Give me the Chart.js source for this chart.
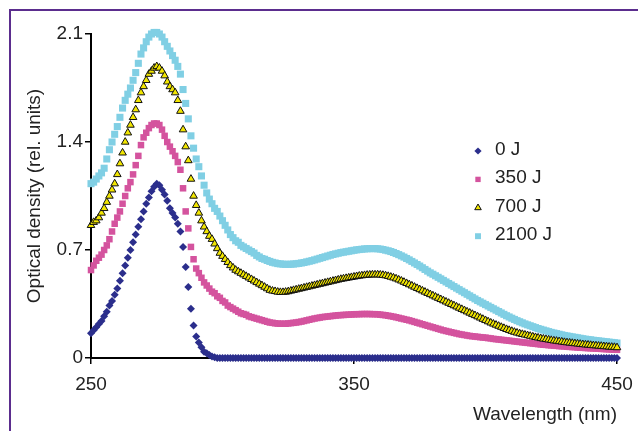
<!DOCTYPE html>
<html lang="en">
<head>
<meta charset="UTF-8" />
<title>Optical density spectra</title>
<script src="https://cdn.jsdelivr.net/npm/chart.js"></script>
<style>
  body { margin: 0; background: #fff; overflow: hidden; }
  .frame { position: absolute; left: 9px; top: 9px; width: 700px; height: 500px; border: 2px solid #5b2d8e; }
  #spectra { position: absolute; left: 0; top: 0; }
</style>
</head>
<body>
<div class="frame"></div>
<canvas id="spectra" width="638" height="431"></canvas>
<script>
// wavelength grid, 1 nm steps from 250 to 450 nm
const wavelengths = Array.from({ length: 201 }, (_, i) => 250 + i);

const xTicks = [250, 350, 450];
const yTicks = [0, 0.7, 1.4, 2.1];

const dose0 = [
  0.16, 0.18, 0.20, 0.22, 0.24, 0.27, 0.30, 0.34, 0.37, 0.41,
  0.45, 0.50, 0.55, 0.60, 0.65, 0.70, 0.75, 0.80, 0.85, 0.90,
  0.95, 1.00, 1.04, 1.08, 1.11, 1.13, 1.12, 1.09, 1.06, 1.02,
  0.97, 0.94, 0.91, 0.87, 0.82, 0.72, 0.59, 0.46, 0.32, 0.21,
  0.14, 0.10, 0.07, 0.04, 0.03, 0.02, 0.01, 0.005, 0, 0,
  0, 0, 0, 0, 0, 0, 0, 0, 0, 0,
  0, 0, 0, 0, 0, 0, 0, 0, 0, 0,
  0, 0, 0, 0, 0, 0, 0, 0, 0, 0,
  0, 0, 0, 0, 0, 0, 0, 0, 0, 0,
  0, 0, 0, 0, 0, 0, 0, 0, 0, 0,
  0, 0, 0, 0, 0, 0, 0, 0, 0, 0,
  0, 0, 0, 0, 0, 0, 0, 0, 0, 0,
  0, 0, 0, 0, 0, 0, 0, 0, 0, 0,
  0, 0, 0, 0, 0, 0, 0, 0, 0, 0,
  0, 0, 0, 0, 0, 0, 0, 0, 0, 0,
  0, 0, 0, 0, 0, 0, 0, 0, 0, 0,
  0, 0, 0, 0, 0, 0, 0, 0, 0, 0,
  0, 0, 0, 0, 0, 0, 0, 0, 0, 0,
  0, 0, 0, 0, 0, 0, 0, 0, 0, 0,
  0, 0, 0, 0, 0, 0, 0, 0, 0, 0,
  0
];

const dose350 = [
  0.57, 0.60, 0.63, 0.65, 0.67, 0.70, 0.73, 0.77, 0.82, 0.87,
  0.91, 0.95, 1.00, 1.05, 1.10, 1.14, 1.19, 1.25, 1.31, 1.38,
  1.43, 1.46, 1.49, 1.51, 1.52, 1.52, 1.51, 1.48, 1.44, 1.40,
  1.37, 1.34, 1.31, 1.27, 1.22, 1.10, 0.95, 0.84, 0.72, 0.64,
  0.58, 0.55, 0.52, 0.49, 0.47, 0.45, 0.43, 0.42, 0.40, 0.39,
  0.37, 0.36, 0.34, 0.33, 0.32, 0.31, 0.30, 0.29, 0.285, 0.28,
  0.27, 0.265, 0.26, 0.255, 0.25, 0.245, 0.24, 0.235, 0.23, 0.228,
  0.225, 0.223, 0.222, 0.222, 0.222, 0.224, 0.226, 0.228, 0.23, 0.233,
  0.236, 0.24, 0.244, 0.248, 0.252, 0.256, 0.259, 0.262, 0.265, 0.267,
  0.269, 0.271, 0.273, 0.275, 0.277, 0.278, 0.279, 0.28, 0.281, 0.282,
  0.283, 0.284, 0.284, 0.285, 0.285, 0.285, 0.285, 0.284, 0.284, 0.283,
  0.281, 0.279, 0.277, 0.274, 0.271, 0.268, 0.264, 0.26, 0.256, 0.252,
  0.248, 0.244, 0.239, 0.234, 0.229, 0.224, 0.219, 0.214, 0.209, 0.204,
  0.199, 0.194, 0.189, 0.184, 0.179, 0.175, 0.171, 0.167, 0.163, 0.159,
  0.155, 0.152, 0.149, 0.146, 0.143, 0.141, 0.139, 0.137, 0.135, 0.133,
  0.132, 0.129, 0.127, 0.124, 0.122, 0.12, 0.118, 0.116, 0.114, 0.112,
  0.11, 0.108, 0.106, 0.104, 0.102, 0.1, 0.098, 0.096, 0.094, 0.092,
  0.09, 0.088, 0.086, 0.085, 0.083, 0.082, 0.08, 0.079, 0.077, 0.076,
  0.075, 0.073, 0.072, 0.071, 0.07, 0.068, 0.067, 0.066, 0.065, 0.064,
  0.063, 0.062, 0.061, 0.06, 0.059, 0.058, 0.057, 0.056, 0.055, 0.054,
  0.053
];

const dose700 = [
  0.86, 0.88, 0.89, 0.91, 0.94, 0.97, 1.01, 1.05, 1.09, 1.13,
  1.19, 1.26, 1.33, 1.40, 1.46, 1.51, 1.56, 1.61, 1.67, 1.72,
  1.76, 1.80, 1.84, 1.86, 1.88, 1.89, 1.88, 1.86, 1.83, 1.79,
  1.76, 1.74, 1.72, 1.67, 1.60, 1.48, 1.37, 1.28, 1.16, 1.05,
  0.99, 0.94, 0.89, 0.85, 0.82, 0.79, 0.77, 0.74, 0.71, 0.68,
  0.66, 0.64, 0.62, 0.60, 0.585, 0.57, 0.56, 0.55, 0.54, 0.53,
  0.52, 0.51, 0.50, 0.49, 0.48, 0.47, 0.46, 0.45, 0.44, 0.435,
  0.432, 0.428, 0.426, 0.426, 0.428, 0.431, 0.435, 0.439, 0.443, 0.447,
  0.451, 0.455, 0.459, 0.463, 0.467, 0.471, 0.475, 0.479, 0.483, 0.487,
  0.491, 0.495, 0.499, 0.503, 0.507, 0.511, 0.514, 0.517, 0.52, 0.523,
  0.526, 0.529, 0.532, 0.534, 0.536, 0.538, 0.539, 0.54, 0.54, 0.54,
  0.539, 0.537, 0.534, 0.53, 0.525, 0.52, 0.514, 0.507, 0.5, 0.492,
  0.484, 0.476, 0.468, 0.46, 0.452, 0.444, 0.436, 0.428, 0.42, 0.412,
  0.404, 0.396, 0.388, 0.38, 0.372, 0.364, 0.356, 0.348, 0.34, 0.332,
  0.324, 0.316, 0.308, 0.3, 0.292, 0.284, 0.276, 0.268, 0.26, 0.252,
  0.244, 0.236, 0.228, 0.221, 0.214, 0.207, 0.2, 0.193, 0.186, 0.18,
  0.174, 0.168, 0.163, 0.158, 0.154, 0.15, 0.146, 0.142, 0.138, 0.134,
  0.131, 0.127, 0.124, 0.121, 0.118, 0.115, 0.112, 0.11, 0.107, 0.105,
  0.102, 0.1, 0.098, 0.096, 0.094, 0.092, 0.09, 0.088, 0.086, 0.085,
  0.083, 0.081, 0.08, 0.078, 0.077, 0.075, 0.074, 0.072, 0.071, 0.07,
  0.068
];

const dose2100 = [
  1.13, 1.14, 1.16, 1.18, 1.20, 1.23, 1.29, 1.35, 1.40, 1.45,
  1.50, 1.56, 1.62, 1.67, 1.71, 1.75, 1.80, 1.85, 1.91, 1.97,
  2.01, 2.05, 2.08, 2.10, 2.11, 2.11, 2.10, 2.08, 2.05, 2.02,
  1.99, 1.96, 1.93, 1.89, 1.84, 1.74, 1.65, 1.55, 1.44, 1.36,
  1.29, 1.24, 1.18, 1.12, 1.07, 1.03, 1.00, 0.97, 0.95, 0.92,
  0.89, 0.86, 0.83, 0.80, 0.78, 0.76, 0.75, 0.73, 0.72, 0.71,
  0.70, 0.69, 0.68, 0.665, 0.655, 0.645, 0.64, 0.632, 0.626, 0.62,
  0.616, 0.612, 0.61, 0.608, 0.607, 0.607, 0.608, 0.609, 0.611, 0.613,
  0.616, 0.619, 0.623, 0.627, 0.631, 0.636, 0.641, 0.646, 0.651, 0.656,
  0.661, 0.666, 0.671, 0.675, 0.679, 0.683, 0.686, 0.689, 0.692, 0.695,
  0.698, 0.701, 0.703, 0.705, 0.707, 0.708, 0.709, 0.709, 0.709, 0.708,
  0.706, 0.703, 0.699, 0.695, 0.69, 0.684, 0.677, 0.67, 0.662, 0.654,
  0.645, 0.636, 0.626, 0.616, 0.606, 0.596, 0.585, 0.574, 0.563, 0.552,
  0.543, 0.533, 0.523, 0.513, 0.503, 0.493, 0.483, 0.473, 0.463, 0.453,
  0.443, 0.433, 0.423, 0.413, 0.403, 0.393, 0.383, 0.373, 0.364, 0.355,
  0.346, 0.337, 0.328, 0.319, 0.31, 0.301, 0.292, 0.283, 0.274, 0.266,
  0.258, 0.25, 0.242, 0.235, 0.228, 0.221, 0.215, 0.209, 0.203, 0.197,
  0.191, 0.186, 0.181, 0.176, 0.171, 0.166, 0.162, 0.158, 0.154, 0.15,
  0.146, 0.143, 0.14, 0.137, 0.134, 0.131, 0.128, 0.125, 0.122, 0.12,
  0.118, 0.115, 0.113, 0.111, 0.109, 0.107, 0.105, 0.103, 0.101, 0.099,
  0.097
];

const FONT = "'Liberation Sans', Arial, Helvetica, sans-serif";
const TEXT = '#222';

function points(values) {
  return values.map((v, i) => ({ x: wavelengths[i], y: v }));
}

// legend block drawn inside the plot, to the right of the peaks
const legendBlock = {
  id: 'legendBlock',
  afterDatasetsDraw(chart) {
    const ctx = chart.ctx;
    ctx.save();
    chart.data.datasets.forEach((ds, i) => {
      const y = 149.5 + i * 28.4;
      ctx.fillStyle = ds.pointBackgroundColor;
      ctx.strokeStyle = ds.pointBorderColor;
      ctx.lineWidth = ds.pointBorderWidth;
      Chart.helpers.drawPoint(ctx, {
        pointStyle: ds.pointStyle,
        radius: ds.legendRadius,
        borderWidth: ds.pointBorderWidth,
        rotation: 0
      }, 478, y + 1.5);
      ctx.fillStyle = TEXT;
      ctx.font = '19px ' + FONT;
      ctx.textAlign = 'left';
      ctx.textBaseline = 'middle';
      ctx.fillText(ds.label, 495, y);
    });
    ctx.restore();
  }
};

const tickFont = { family: FONT, size: 19 };

new Chart(document.getElementById('spectra'), {
  type: 'scatter',
  data: {
    datasets: [
      { label: '0 J', data: points(dose0), pointStyle: 'rectRot', pointRadius: 4, legendRadius: 3.6,
        pointBackgroundColor: '#2b2e8c', pointBorderColor: '#2b2e8c', pointBorderWidth: 0, order: 0 },
      { label: '350 J', data: points(dose350), pointStyle: 'rect', pointRadius: 4.6, legendRadius: 3.8,
        pointBackgroundColor: '#d4539e', pointBorderColor: '#d4539e', pointBorderWidth: 0, order: 2 },
      { label: '700 J', data: points(dose700), pointStyle: 'triangle', pointRadius: 4.4, legendRadius: 3.8,
        pointBackgroundColor: '#f2e600', pointBorderColor: '#111', pointBorderWidth: 1, order: 1 },
      { label: '2100 J', data: points(dose2100), pointStyle: 'rect', pointRadius: 5, legendRadius: 4.2,
        pointBackgroundColor: '#80cfe4', pointBorderColor: '#80cfe4', pointBorderWidth: 0, order: 3 }
    ]
  },
  options: {
    responsive: false,
    devicePixelRatio: 1,
    animation: false,
    events: [],
    clip: false,
    layout: { padding: { left: 0, top: 34, right: 21, bottom: 0 } },
    plugins: { legend: { display: false }, tooltip: { enabled: false } },
    scales: {
      x: {
        type: 'linear',
        min: 250,
        max: 450,
        afterBuildTicks: s => { s.ticks = xTicks.map(v => ({ value: v })); },
        afterFit: s => { s.height = 73; s.paddingLeft = 0; s.paddingRight = 0; },
        border: { display: true, color: '#000', width: 2 },
        grid: { drawOnChartArea: false, drawTicks: true, tickLength: 6, color: '#000', lineWidth: 1.5 },
        ticks: { color: TEXT, font: tickFont, padding: 9, maxRotation: 0, autoSkip: false,
                 callback: v => String(v) },
        title: { display: true, text: 'Wavelength (nm)', align: 'end', color: TEXT,
                 font: { family: FONT, size: 19 }, padding: { top: 0, bottom: 5 } }
      },
      y: {
        min: 0,
        max: 2.1,
        afterBuildTicks: s => { s.ticks = yTicks.map(v => ({ value: v })); },
        afterFit: s => { s.width = 91; s.paddingTop = 0; s.paddingBottom = 0; },
        border: { display: true, color: '#000', width: 2 },
        grid: { drawOnChartArea: false, drawTicks: true, tickLength: 6, color: '#000', lineWidth: 1.5 },
        ticks: { color: TEXT, font: tickFont, padding: 2, callback: v => String(v) },
        title: { display: true, text: 'Optical density (rel. units)', color: TEXT,
                 font: { family: FONT, size: 19 }, padding: { top: 23, bottom: 0 } }
      }
    }
  },
  plugins: [legendBlock]
});
</script>
</body>
</html>
